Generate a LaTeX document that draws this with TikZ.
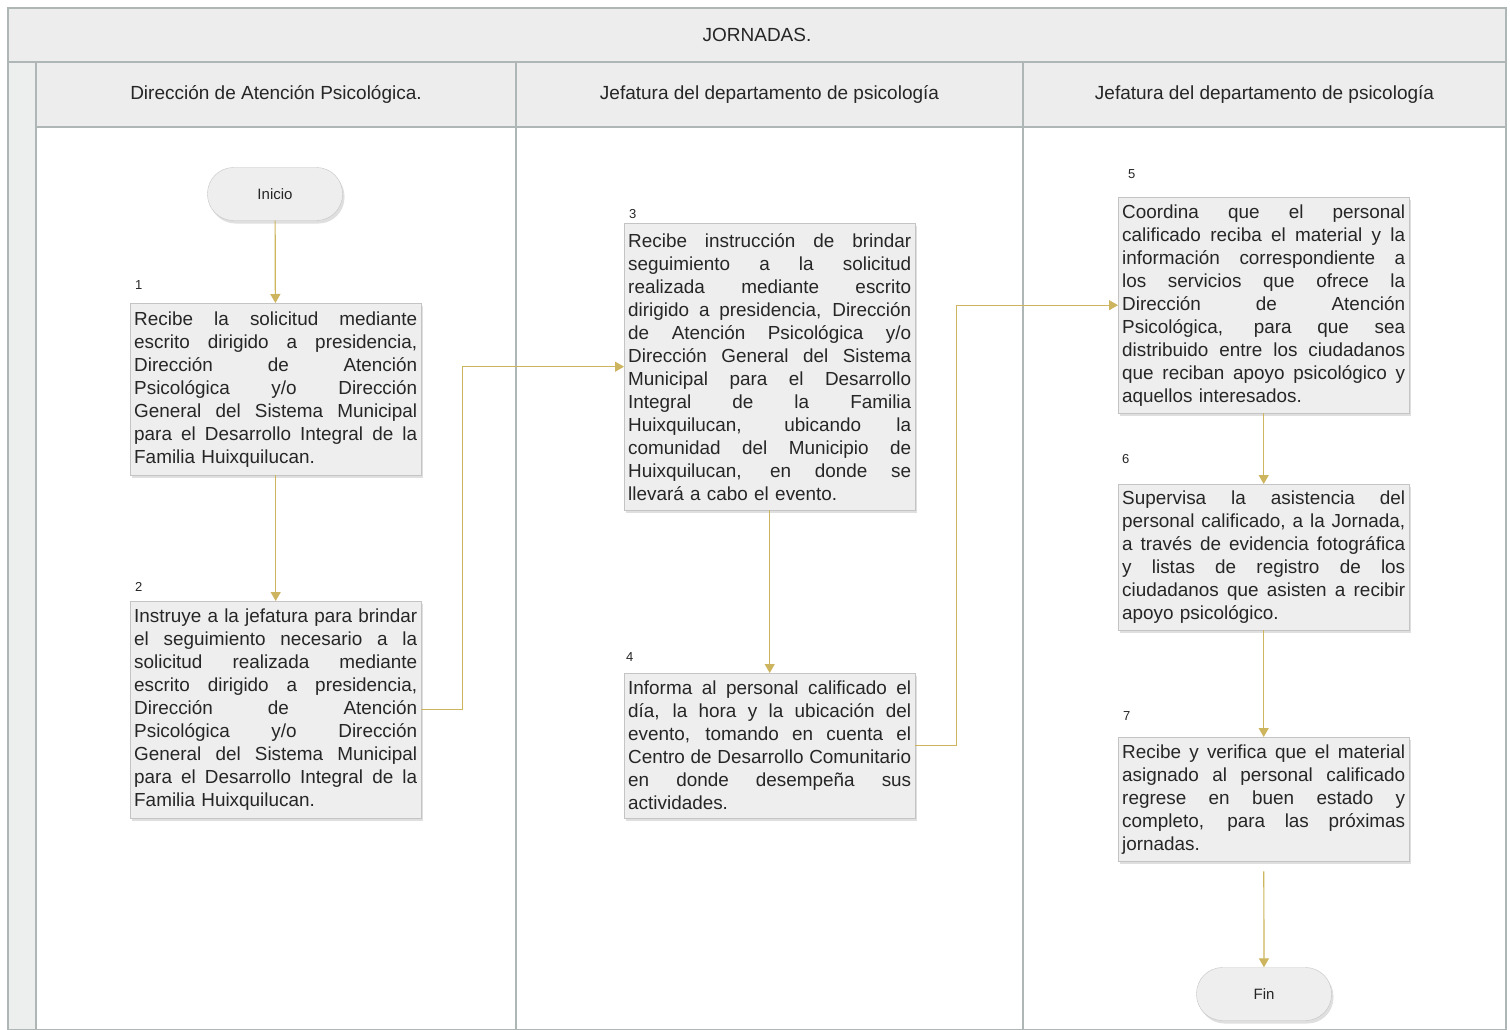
\documentclass[tikz,border=0pt]{standalone}
\usepackage{fontspec}
\setmainfont{Liberation Sans}
\usetikzlibrary{arrows.meta,shadows,positioning}

\definecolor{lanegray}{HTML}{AEB7B5}
\definecolor{headfill}{HTML}{EDEDED}
\definecolor{stripfill}{HTML}{ECEFEE}
\definecolor{boxfill}{HTML}{EEEEEE}
\definecolor{boxline}{HTML}{C4C4C4}
\definecolor{flowgold}{HTML}{CDB45E}
\definecolor{txt}{HTML}{262626}

\newlength\actw
\setlength\actw{283pt}
% one justified line of a step
\newcommand{\jl}[1]{\makebox[\actw][s]{\spaceskip=0pt\xspaceskip=0pt\relax #1}\\}

\tikzset{
  lane/.style={draw=lanegray, line width=1.2pt},
  lanehead/.style={lane, fill=headfill, inner sep=0pt, text=txt,
    font={\fontsize{19}{23}\selectfont}},
  actbox/.style={draw=boxline, fill=boxfill, text=txt, text width=\actw,
    inner xsep=4pt, inner ysep=4pt, align=left, anchor=north west,
    font={\fontsize{18.9}{23}\selectfont},
    drop shadow={opacity=0.25, shadow xshift=2pt, shadow yshift=-3pt}},
  term/.style={draw=boxline, fill=boxfill, text=txt, rounded corners=26pt,
    minimum width=135pt, minimum height=53pt, font={\fontsize{15}{18}\selectfont},
    drop shadow={opacity=0.25, shadow xshift=2pt, shadow yshift=-3pt}},
  num/.style={font={\fontsize{13}{15}\selectfont}, text=txt, anchor=west, inner sep=0pt},
  flow/.style={draw=flowgold, line width=1.2pt, -{Triangle[width=10pt,length=9pt]}},
}

\begin{document}
\begin{tikzpicture}[x=1pt,y=-1pt]
  \useasboundingbox (0,0) rectangle (1510,1030);
  % Pool and lanes
  \fill[white] (0,0) rectangle (1510,1030);
  \draw[lane, fill=stripfill] (8,62) rectangle (36,1030);
  \draw[lane] (36,127) rectangle (516,1030);
  \draw[lane] (516,127) rectangle (1023,1030);
  \draw[lane] (1023,127) rectangle (1506,1030);
  \node[lanehead, minimum width=1498pt, minimum height=54pt] (pool) at (757,35) {JORNADAS.};
  \node[lanehead, minimum width=480pt, minimum height=65pt] (lanedap) at (276,94.5) {Dirección de Atención Psicológica.};
  \node[lanehead, minimum width=507pt, minimum height=65pt] (lanejdp) at (769.5,94.5) {Jefatura del departamento de psicología};
  \node[lanehead, minimum width=483pt, minimum height=65pt] (lanejdp2) at (1264.5,94.5) {Jefatura del departamento de psicología};

  % Nodes
  \node[term] (inicio) at (275,194) {Inicio};
  \node[actbox, minimum height=172pt] (b1) at (130,303) {%
    \jl{Recibe la solicitud mediante}
    \jl{escrito dirigido a presidencia,}
    \jl{Dirección de Atención}
    \jl{Psicológica y/o Dirección}
    \jl{General del Sistema Municipal}
    \jl{para el Desarrollo Integral de la}
    Familia Huixquilucan.};
  \node[actbox, minimum height=217pt] (b2) at (130,601) {%
    \jl{Instruye a la jefatura para brindar}
    \jl{el seguimiento necesario a la}
    \jl{solicitud realizada mediante}
    \jl{escrito dirigido a presidencia,}
    \jl{Dirección de Atención}
    \jl{Psicológica y/o Dirección}
    \jl{General del Sistema Municipal}
    \jl{para el Desarrollo Integral de la}
    Familia Huixquilucan.};
  \node[actbox, minimum height=287pt] (b3) at (624,223) {%
    \jl{Recibe instrucción de brindar}
    \jl{seguimiento a la solicitud}
    \jl{realizada mediante escrito}
    \jl{dirigido a presidencia, Dirección}
    \jl{de Atención Psicológica y/o}
    \jl{Dirección General del Sistema}
    \jl{Municipal para el Desarrollo}
    \jl{Integral de la Familia}
    \jl{Huixquilucan, ubicando la}
    \jl{comunidad del Municipio de}
    \jl{Huixquilucan, en donde se}
    llevará a cabo el evento.};
  \node[actbox, minimum height=145pt] (b4) at (624,673) {%
    \jl{Informa al personal calificado el}
    \jl{día, la hora y la ubicación del}
    \jl{evento, tomando en cuenta el}
    \jl{Centro de Desarrollo Comunitario}
    \jl{en donde desempeña sus}
    actividades.};
  \node[actbox, minimum height=216pt] (b5) at (1118,197) {%
    \jl{Coordina que el personal}
    \jl{calificado reciba el material y la}
    \jl{información correspondiente a}
    \jl{los servicios que ofrece la}
    \jl{Dirección de Atención}
    \jl{Psicológica, para que sea}
    \jl{distribuido entre los ciudadanos}
    \jl{que reciban apoyo psicológico y}
    aquellos interesados.};
  \node[actbox, minimum height=146pt] (b6) at (1118,484) {%
    \jl{Supervisa la asistencia del}
    \jl{personal calificado, a la Jornada,}
    \jl{a través de evidencia fotográfica}
    \jl{y listas de registro de los}
    \jl{ciudadanos que asisten a recibir}
    apoyo psicológico.};
  \node[actbox, minimum height=124pt] (b7) at (1118,737) {%
    \jl{Recibe y verifica que el material}
    \jl{asignado al personal calificado}
    \jl{regrese en buen estado y}
    \jl{completo, para las próximas}
    jornadas.};
  \node[term] (fin) at (1264,994) {Fin};

  % step numbers
  \node[num] (n1) at (135,285) {1};
  \node[num] (n2) at (135,587) {2};
  \node[num] (n3) at (629,214) {3};
  \node[num] (n4) at (626,657) {4};
  \node[num] (n5) at (1128,174) {5};
  \node[num] (n6) at (1122,459) {6};
  \node[num] (n7) at (1123,716) {7};

  % edges
  \draw[flow] (inicio) -- (b1);
  \draw[flow] (b1) -- (b2);
  \draw[flow] (b2.east) -- ++(41,0) |- (b3.west);
  \draw[flow] (b3) -- (b4);
  \draw[flow] (b4.east) -- ++(41,0) |- (b5.west);
  \draw[flow] (b5) -- (b6);
  \draw[flow] (b6) -- (b7);
  \draw[flow, shorten <=10pt] (b7) -- (fin);
\end{tikzpicture}
\end{document}
